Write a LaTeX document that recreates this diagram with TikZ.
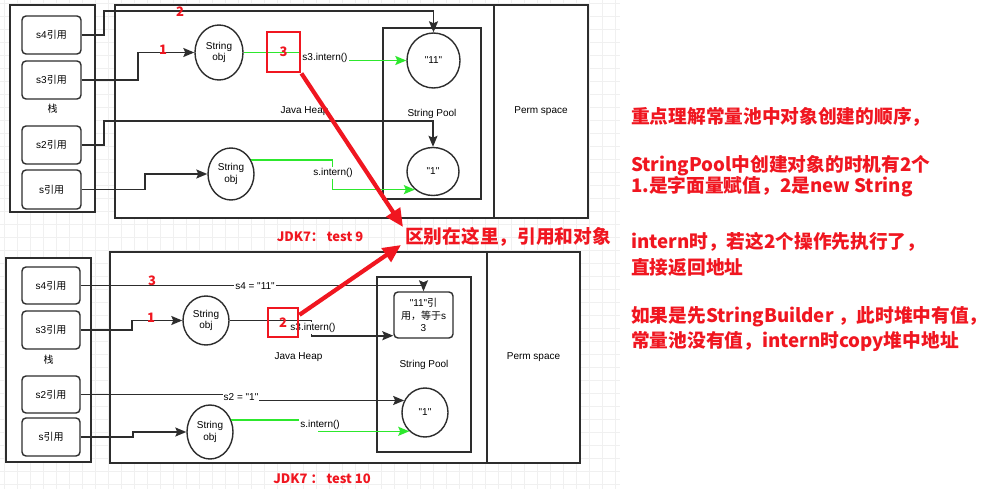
\documentclass[tikz,border=0pt]{standalone}
\usepackage{fontspec}
\newfontfamily\arial{Liberation Sans}
\newfontfamily\cjk{Noto Sans CJK SC}
\usetikzlibrary{arrows.meta,calc,shapes.geometric}
\definecolor{ln}{RGB}{45,45,45}
\definecolor{grn}{RGB}{45,232,45}
\definecolor{rd}{RGB}{240,22,32}
\newcommand\zhs[1]{{\cjk #1}}
\newcommand\fs{\arial\fontsize{10}{11.8}\selectfont}
\newcommand\rbf{\cjk\bfseries\fontsize{13}{15}\selectfont}
\newcommand\ntf{\cjk\bfseries\fontsize{18.7}{22}\selectfont}
\tikzset{
  frame/.style={draw=ln,line width=1.4pt,fill=white,inner sep=0pt,font=\fs},
  refbox/.style={frame,rounded corners=4pt,minimum width=59pt,minimum height=38pt},
  obj/.style={ellipse,draw=ln,line width=1.4pt,fill=white,inner sep=0pt,font=\fs,align=center},
  conn/.style={draw=ln,line width=1.6pt,-{Stealth[length=11pt,width=9pt,inset=2pt]}},
  gconn/.style={conn,draw=grn,-{Stealth[length=11pt,width=9pt,inset=2pt,fill=grn]}},
  lbl/.style={fill=white,inner sep=1pt,font=\fs},
  rnum/.style={text=rd,font=\rbf,inner sep=0pt},
  rbox/.style={draw=rd,line width=2.8pt,inner sep=0pt,text=rd,font=\rbf},
  rarrow/.style={draw=rd,line width=4.2pt,-{Triangle[length=18pt,width=16pt]}},
  note/.style={anchor=west,text=rd,font=\ntf,inner sep=0pt},
}
\begin{document}
\begin{tikzpicture}[x=1pt,y=-1pt]
\fill[white] (0,0) rectangle (987,489);
\useasboundingbox (0,0) rectangle (987,489);
% faint grid
\foreach \i in {4,17,...,620} \draw[black!6,line width=0.5pt] (\i,0) -- (\i,489);
\foreach \j in {3,16,...,489} \draw[black!6,line width=0.5pt] (0,\j) -- (620,\j);

% ---------------- top diagram ----------------
\node[frame,minimum width=85pt,minimum height=207pt] (stk1) at (52.5,108.5) {\zhs{栈}};
\node[frame,minimum width=379pt,minimum height=213pt] (heap1) at (304.5,111.5) {Java Heap};
\node[frame,minimum width=94pt,minimum height=213pt] (perm1) at (541,111.5) {Perm space};
\node[frame,minimum width=98pt,minimum height=171pt] (pool1) at (432,113.5) {String Pool};

\node[refbox] (s4a) at (51.5,35) {s4\zhs{引用}};
\node[refbox] (s3a) at (51.5,80) {s3\zhs{引用}};
\node[refbox] (s2a) at (51.5,145) {s2\zhs{引用}};
\node[refbox,minimum height=39pt] (sa) at (51.5,189.5) {s\zhs{引用}};

\node[obj,minimum width=48pt,minimum height=55pt] (obj1) at (219,52.5) {String\\obj};
\node[obj,minimum width=53pt,minimum height=55pt] (c11) at (433.5,60.5) {"11"};
\node[obj,minimum width=46pt,minimum height=52pt] (obj2) at (231,174) {String\\obj};
\node[obj,minimum width=52pt,minimum height=48pt] (c1) at (433,171.5) {"1"};

\draw[conn] (s4a.east) -- ++(22,0) -- ++(0,-24) -| (c11.north);
\draw[conn] (s3a.east) -- ++(56,0) |- (obj1.west);
\draw[conn] (s2a.east) -- ++(22,0) -- ++(0,-24) -| (c1.north);
\draw[conn] (sa.east) -- ++(63,0) |- (obj2.west);
\draw[gconn] (obj1.east) -- ++(57,0) |- (c11.west);
\draw[gconn] (obj2.35) -| ([xshift=-82.5pt]c1.225) -- (c1.225);

\node[lbl] (l1) at (325,58) {s3.intern()};
\node[lbl] (l2) at (333,173) {s.intern()};
\node[rnum] (n1) at (163,50) {1};
\node[rnum] (n2) at (180,12) {2};
\node[rbox,minimum width=33pt,minimum height=40pt] (box3) at (283.5,52) {3};

% ---------------- bottom diagram ----------------
\node[frame,minimum width=85pt,minimum height=204pt] (stk2) at (48.5,360) {\zhs{栈}};
\node[frame,minimum width=377pt,minimum height=211pt] (heap2) at (298.5,357.5) {Java Heap};
\node[frame,minimum width=93pt,minimum height=211pt] (perm2) at (533.5,357.5) {Perm space};
\node[frame,minimum width=94pt,minimum height=175pt] (pool2) at (424,364.5) {String Pool};

\node[refbox,minimum width=58pt,minimum height=37pt] (s4b) at (51,285.5) {s4\zhs{引用}};
\node[refbox,minimum width=58pt,minimum height=38pt] (s3b) at (51,330) {s3\zhs{引用}};
\node[refbox,minimum width=58pt,minimum height=37pt] (s2b) at (51,394.5) {s2\zhs{引用}};
\node[refbox,minimum width=58pt,minimum height=38pt] (sb) at (51,437) {s\zhs{引用}};

\node[obj,minimum width=46pt,minimum height=49pt] (obj3) at (206,320.5) {String\\obj};
\node[refbox,minimum width=59pt,minimum height=46pt,align=center,font=\arial\fontsize{10}{12.5}\selectfont] (b11) at (423.5,315) {"11"\zhs{引}\\\zhs{用，等于}s\\3};
\node[obj,minimum width=46pt,minimum height=54pt] (obj4) at (210,432) {String\\obj};
\node[obj,minimum width=46pt,minimum height=49pt] (c1b) at (425,412.5) {"1"};

\coordinate (b11in) at ($(b11.south west)+(0,-3)$);
\draw[conn] (s4b.east) -| (b11.north);
\draw[conn] (s3b.east) -- ++(51,0) |- (obj3.west);
\draw[conn] (obj3.east) -| ([xshift=-82pt]b11in) -- (b11in);
\draw[conn] (s2b.east) -| ([xshift=-164pt]c1b.150) -- (c1b.150);
\draw[conn] (sb.east) -- ++(52,0) |- (obj4.west);
\draw[gconn] (obj4.30) -| ([xshift=-90pt]c1b.230) -- (c1b.230);

\node[lbl] (l3) at (255,286) {s4 = "11"};
\node[lbl] (l4) at (313,328) {s3.intern()};
\node[lbl] (l5) at (241,397) {s2 = "1"};
\node[lbl] (l6) at (320,425) {s.intern()};
\node[rnum] (n3) at (152,281) {3};
\node[rnum] (n4) at (151,318) {1};
\node[rbox,minimum width=30pt,minimum height=29pt] (box2) at (283,322.5) {2};

% ---------------- red annotations ----------------
\node[rnum] (jdk9) at (320,237) {JDK7： test 9};
\node[rnum] (jdk10) at (322,479) {JDK7 ： test 10};
\node[note] (diff) at (405,237) {区别在这里，引用和对象};
\coordinate (tipA) at (403,227);
\coordinate (tipB) at (401,245);
\draw[rarrow] (box3.south east) -- (tipA);
\draw[rarrow] (box2.25) -- (tipB);

\node[note] (t1) at (631,117) {重点理解常量池中对象创建的顺序，};
\node[note] (t2) at (631,166) {StringPool中创建对象的时机有2个};
\node[note] (t3) at (631,187) {1.是字面量赋值，2是new String};
\node[note] (t4) at (631,242) {intern时，若这2个操作先执行了，};
\node[note] (t5) at (631,267) {直接返回地址};
\node[note] (t6) at (631,317) {如果是先StringBuilder ，此时堆中有值，};
\node[note] (t7) at (631,342) {常量池没有值，intern时copy堆中地址};
\end{tikzpicture}
\end{document}
